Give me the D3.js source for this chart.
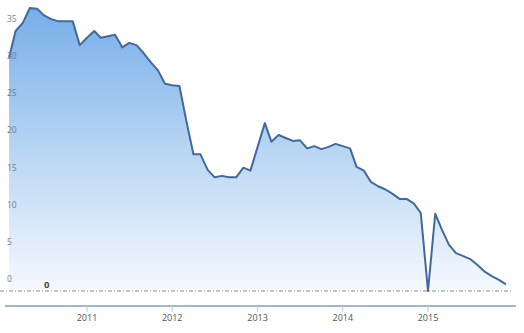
<!DOCTYPE html>
<html>
<head>
<meta charset="utf-8">
<script src="https://cdn.jsdelivr.net/npm/d3@7"></script>
<style>
  html, body { margin: 0; padding: 0; background: #fff; }
  svg { display: block; font-family: "Open Sans", "DejaVu Sans", sans-serif; }
</style>
</head>
<body>
<div id="chart"></div>
<script>
const width = 524;
const height = 333;

// Monthly values, Feb 2010 .. Dec 2015
const startMonth = "2010-02";
const values = [
  31.4, 35.0, 36.1, 38.1, 38.0, 37.1, 36.6, 36.3, 36.3, 36.3, 33.1,
  34.1, 35.0, 34.1, 34.3, 34.5, 32.8, 33.4, 33.1, 32.0, 30.8, 29.7, 27.9,
  27.7, 27.6, 23.0, 18.4, 18.4, 16.3, 15.3, 15.5, 15.3, 15.3, 16.6, 16.2,
  19.4, 22.6, 20.1, 21.0, 20.6, 20.2, 20.3, 19.2, 19.5, 19.1, 19.4, 19.8,
  19.5, 19.2, 16.7, 16.2, 14.7, 14.1, 13.7, 13.1, 12.4, 12.4, 11.8, 10.5,
  0.0, 10.4, 8.3, 6.2, 5.1, 4.7, 4.3, 3.5, 2.6, 2.0, 1.5, 0.9
];
const yTicks = [0, 5, 10, 15, 20, 25, 30, 35];
const xTicks = [2011, 2012, 2013, 2014, 2015];
const plotLineValue = 0;
const plotLineLabel = "0";

const parseMonth = d3.timeParse("%Y-%m");
const first = parseMonth(startMonth);
const data = values.map((v, i) => ({ date: d3.timeMonth.offset(first, i), value: v }));

const x = d3.scaleTime()
  .domain([new Date(2011, 0, 1), new Date(2015, 0, 1)])
  .range([87, 428]);
const y = d3.scaleLinear().domain([0, 35]).range([291, 31]);

const svg = d3.select("#chart").append("svg").attr("width", width).attr("height", height);

// Gradient fill for the area
const grad = svg.append("defs").append("linearGradient")
  .attr("id", "fillGrad").attr("gradientUnits", "userSpaceOnUse")
  .attr("x1", 0).attr("y1", 0).attr("x2", 0).attr("y2", y(0));
grad.append("stop").attr("offset", "0%").attr("stop-color", "#73abe8");
grad.append("stop").attr("offset", "50%").attr("stop-color", "#b6d4f3");
grad.append("stop").attr("offset", "100%").attr("stop-color", "#f6f9fe");

svg.append("path").datum(data)
  .attr("fill", "url(#fillGrad)")
  .attr("d", d3.area().x(d => x(d.date)).y0(y(0)).y1(d => y(d.value)));

// Zero plot line (dash-dot)
svg.append("line")
  .attr("x1", 0).attr("x2", 512)
  .attr("y1", y(plotLineValue)).attr("y2", y(plotLineValue))
  .attr("stroke", "#8a8a8a").attr("stroke-width", 1)
  .attr("stroke-dasharray", "4,2,1,2");
svg.append("text")
  .attr("x", 44).attr("y", y(plotLineValue) - 3)
  .attr("font-size", 9.5).attr("font-weight", "bold").attr("fill", "#444")
  .text(plotLineLabel);

svg.append("path").datum(data)
  .attr("fill", "none")
  .attr("stroke", "#41699c").attr("stroke-width", 2)
  .attr("stroke-linejoin", "round")
  .attr("d", d3.line().x(d => x(d.date)).y(d => y(d.value)));

// Y labels (placed above their value)
svg.append("g").selectAll("text").data(yTicks).join("text")
  .attr("x", 7).attr("y", d => y(d) - 9)
  .attr("font-size", 8.5).attr("fill", "#6b7fa3")
  .text(d => d);

// X axis
const xAxis = svg.append("g").attr("transform", "translate(0,306)");
xAxis.append("line").attr("x1", 5).attr("x2", 516)
  .attr("stroke", "#a3b5cf").attr("stroke-width", 2);
const tick = xAxis.selectAll("g.tick").data(xTicks).join("g")
  .attr("class", "tick")
  .attr("transform", d => `translate(${x(new Date(d, 0, 1))},0)`);
tick.append("line").attr("y1", 0).attr("y2", 6).attr("stroke", "#c0cbdb");
tick.append("text").attr("y", 15).attr("text-anchor", "middle")
  .attr("font-size", 9).attr("fill", "#555")
  .text(d => d);
</script>
</body>
</html>
